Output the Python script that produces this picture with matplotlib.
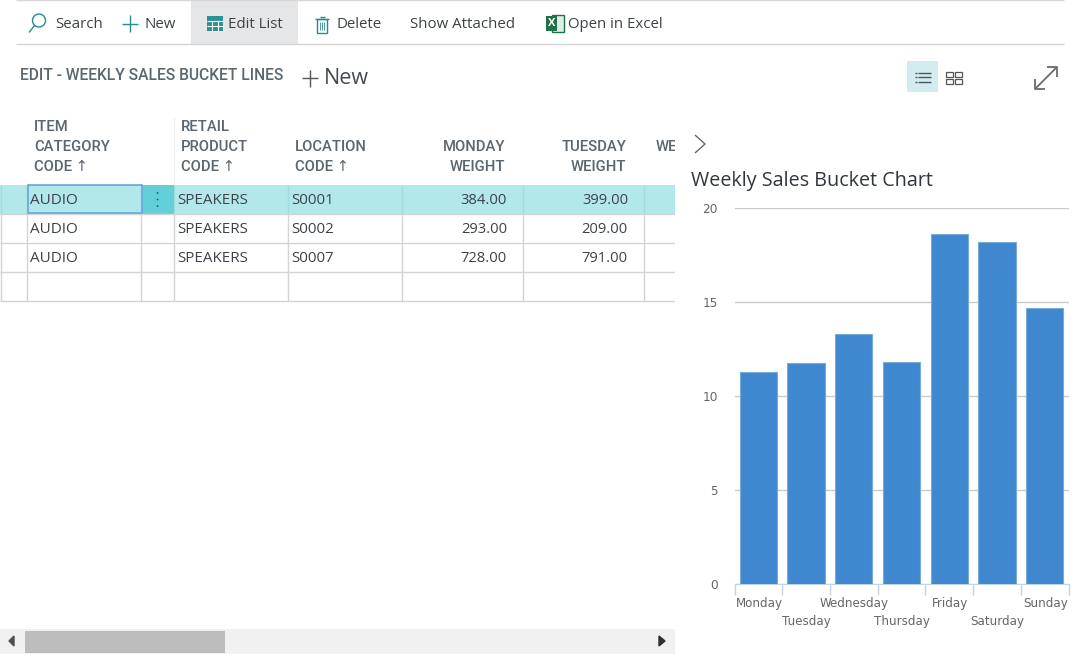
import matplotlib
matplotlib.use("Agg")
import matplotlib.pyplot as plt
from matplotlib.patches import Rectangle, Circle

# ---- data ----
days = ["Monday", "Tuesday", "Wednesday", "Thursday", "Friday", "Saturday", "Sunday"]
bucket_values = [11.3, 11.75, 13.3, 11.8, 18.6, 18.2, 14.7]
y_ticks = [0, 5, 10, 15, 20]
item_category = ["AUDIO", "AUDIO", "AUDIO"]
retail_product = ["SPEAKERS", "SPEAKERS", "SPEAKERS"]
location_code = ["S0001", "S0002", "S0007"]
monday_weight = ["384.00", "293.00", "728.00"]
tuesday_weight = ["399.00", "209.00", "791.00"]

W, H = 1080, 660
UI = "Open Sans"
TEAL = "#2b8a8f"
DARK = "#505c66"
TXT = "#3c4248"

fig = plt.figure(figsize=(W / 100, H / 100), dpi=100, facecolor="white")
ui = fig.add_axes([0, 0, 1, 1])
ui.set_xlim(0, W)
ui.set_ylim(H, 0)
ui.axis("off")


def line(xs, ys, c="#d6d6d6", lw=1.0, **kw):
    ui.plot(xs, ys, color=c, lw=lw, solid_capstyle="butt", **kw)


def rect(x0, y0, x1, y1, fc, ec="none", lw=0, z=1):
    ui.add_patch(Rectangle((x0, y0), x1 - x0, y1 - y0, fc=fc, ec=ec, lw=lw, zorder=z))


def text(x, y, s, size=10.8, color=TXT, ha="left", family=UI, **kw):
    ui.text(x, y + 1, s, fontsize=size, color=color, ha=ha, va="center", family=family, **kw)


def head(x, y, s, ha="left", size=10.6):
    text(x, y, s, size=size, color="#5a6670", ha=ha, family=["Roboto", "DejaVu Sans"], fontweight="medium")


# ---- toolbar ----
line([16, 1064], [0, 0])
line([16, 1064], [44, 44])
rect(191, 1, 298, 44, "#e4e6e8")
# search icon
ui.add_patch(Circle((39, 20.5), 6.5, fc="none", ec=TEAL, lw=1.0))
line([29, 34.5], [32.5, 25.5], c=TEAL, lw=1.0)
text(55, 23.5, "Search")
# new icon
line([122, 138], [24, 24], c=TEAL, lw=1.0)
line([130, 130], [15, 32], c=TEAL, lw=1.0)
text(145, 23.5, "New")
# edit list icon
rect(207, 16, 223, 31, "#2f8f94")
for gy in (20.5, 25.5):
    line([207, 223], [gy, gy], c="white", lw=0.8, zorder=2)
for gx in (212, 217.5):
    line([gx, gx], [20.5, 31], c="white", lw=0.8, zorder=2)
text(228, 23.5, "Edit List")
# delete icon
rect(317, 19, 327, 33, "none", ec=TEAL, lw=1.0)
line([315, 329], [19, 19], c=TEAL, lw=1.0)
line([319.5, 324.5], [17, 17], c=TEAL, lw=1.0)
for tx in (320, 322, 324):
    line([tx, tx], [22, 30], c=TEAL, lw=0.6)
text(336, 23.5, "Delete")
text(410, 23.5, "Show Attached")
# excel icon
rect(552, 15, 564, 32, "#dfeee5", ec="#1f7244", lw=1.0)
rect(546, 16, 557, 31, "#1f7244", z=2)
ui.text(551.5, 23.5, "X", fontsize=8, color="white", ha="center", va="center",
        fontweight="bold", family=UI, zorder=3)
text(568, 23.5, "Open in Excel")

# ---- page heading ----
head(20, 75, "EDIT - WEEKLY SALES BUCKET LINES", size=11.25)
line([302, 318], [78, 78], c="#555555", lw=1.0)
line([310, 310], [70, 87], c="#555555", lw=1.0)
text(324, 77, "New", size=15.5, color="#444a50")

# view switch icons
rect(907, 61, 938, 92, "#d3ecef")
for ly in (72.5, 77, 81.5):
    line([918, 931], [ly, ly], c="#4a5560", lw=1.0)
    line([915, 917], [ly, ly], c="#4a5560", lw=1.0)
for bx, by, bw, bh in [(946, 72, 7, 5), (955, 72, 7, 5), (946, 79, 7, 5), (955, 79, 7, 5)]:
    rect(bx, by, bx + bw, by + bh, "none", ec="#555555", lw=0.9)
# expand icon
line([1036, 1056], [88, 68], c="#6a6a6a", lw=1.3)
line([1047, 1057, 1057], [67, 67, 77], c="#6a6a6a", lw=1.3)
line([1035, 1035, 1045], [79, 89, 89], c="#6a6a6a", lw=1.3)

# ---- table ----
head(34, 126, "ITEM")
head(34, 146, "CATEGORY")
head(34, 166, "CODE ↑")
head(181, 126, "RETAIL")
head(181, 146, "PRODUCT")
head(181, 166, "CODE ↑")
head(295, 146, "LOCATION")
head(295, 166, "CODE ↑")
head(505, 146, "MONDAY", ha="right")
head(505, 166, "WEIGHT", ha="right")
head(626, 146, "TUESDAY", ha="right")
head(626, 166, "WEIGHT", ha="right")
head(656, 146, "WE")
line([174, 174], [117, 185], c="#f0f0f0")

rect(0, 185, 675, 214, "#b2e8ea")
rect(142, 185, 174, 214, "#62cfd9", z=2)
for dy in (193, 199.5, 206):
    ui.add_patch(Circle((157.5, dy), 0.9, fc="#1f5a60", ec="none", zorder=3))

row_edges = [214, 243, 272, 301]
col_edges = [0.5, 27, 141, 174, 288, 402, 523, 644]
for ry in row_edges:
    line([0, 675], [ry - 0.5, ry - 0.5], c="#d4d4d4")
for cx in col_edges:
    line([cx, cx], [214, 301], c="#d4d4d4")
    line([cx, cx], [185, 214], c="#a3dcdf", zorder=1.5)
rect(28, 185, 142, 213, "none", ec="#6aa6dc", lw=1.2, z=4)

for i in range(3):
    cy = 199.3 + 29 * i
    text(30, cy, item_category[i], size=11)
    text(177, cy, retail_product[i], size=10.9)
    text(291.5, cy, location_code[i], size=10.8)
    text(507, cy, monday_weight[i], size=10.6, ha="right")
    text(628, cy, tuesday_weight[i], size=10.6, ha="right")

# ---- scrollbar ----
rect(0, 629, 675, 654, "#f1f1f1")
rect(25, 631, 225, 653, "#bdbdbd")
ui.fill([14, 14, 9], [636, 646, 641], color="#505050", zorder=2)
ui.fill([659, 659, 665], [636, 646, 641], color="#303030", zorder=2)

# ---- chart panel ----
rect(675, 100, 1080, 660, "white", z=3)
line([695, 705, 695], [135, 144, 153], c="#666666", lw=1.0, zorder=4)
ui.text(691, 181, "Weekly Sales Bucket Chart", fontsize=14.2, color="#30363c",
        ha="left", va="center", family=UI, fontweight="medium", zorder=4)

left, right, top, bottom = 734.5, 1068.5, 208, 584
ax = fig.add_axes([left / W, 1 - bottom / H, (right - left) / W, (bottom - top) / H])
ax.patch.set_alpha(0)
ax.bar(range(len(days)), bucket_values, width=0.78, color="#3f88d0",
       edgecolor="#7aaad6", linewidth=0.8, zorder=3)
ax.set_xlim(-0.5, 6.5)
ax.set_ylim(0, 20)
ax.set_yticks(y_ticks)
ax.set_yticklabels([str(v) for v in y_ticks], fontsize=8.7, color="#666666", family="DejaVu Sans")
ax.yaxis.grid(True, color="#c8cccf", lw=1.0, zorder=1)
ax.tick_params(axis="y", length=0, pad=12)
ax.set_xticks([i - 0.5 for i in range(8)])
ax.set_xticklabels([])
ax.tick_params(axis="x", length=8, width=1.0, color="#c0d4e6")
for name, spine in ax.spines.items():
    spine.set_visible(name == "bottom")
ax.spines["bottom"].set_color("#c0d4e6")
ax.set_axisbelow(True)

# staggered category labels
xform = ax.get_xaxis_transform()
for i, d in enumerate(days):
    ax.annotate(d, xy=(i, 0), xycoords=xform, xytext=(0.5, -(19 if i % 2 == 0 else 37) * 0.72),
                textcoords="offset points", ha="center", va="center",
                fontsize=8.6, color="#666666", family="DejaVu Sans", annotation_clip=False)

fig.savefig("out.png", dpi=100, facecolor="white")
